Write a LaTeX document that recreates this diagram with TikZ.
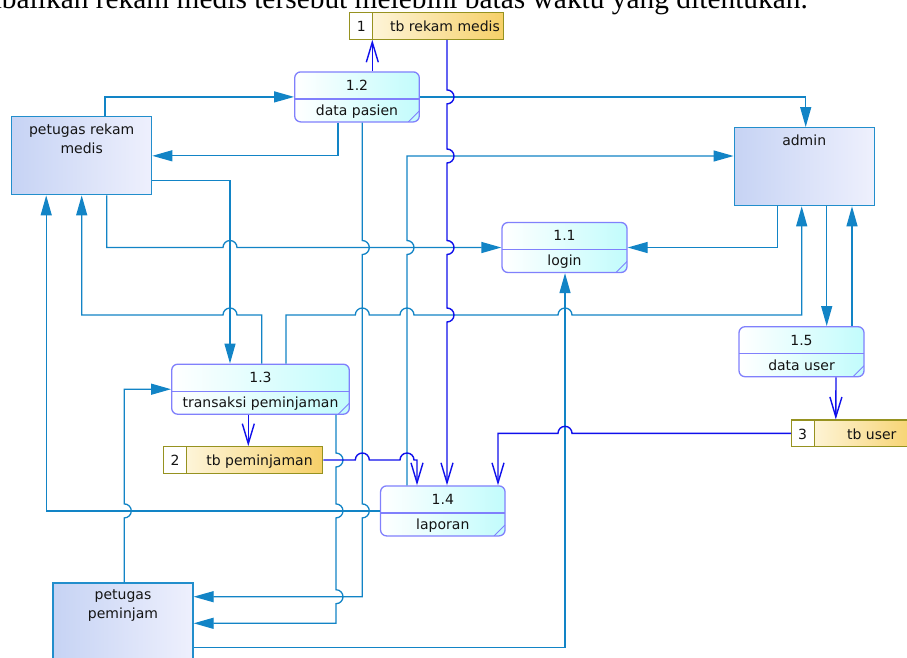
\documentclass[tikz,border=0pt]{standalone}
\usepackage{fontspec}
\setmainfont{DejaVu Sans}
\newfontfamily\docfont{Liberation Serif}
\usetikzlibrary{arrows.meta}
\usetikzlibrary{positioning}

\definecolor{flowc}{RGB}{18,132,198}
\definecolor{dsc}{RGB}{16,16,236}
\definecolor{entline}{RGB}{34,142,204}
\definecolor{entA}{RGB}{198,211,244}
\definecolor{entB}{RGB}{238,240,253}
\definecolor{procline}{RGB}{128,128,252}
\definecolor{procB}{RGB}{194,252,252}
\definecolor{storeline}{RGB}{150,146,32}
\definecolor{storeA}{RGB}{255,251,236}
\definecolor{storeB}{RGB}{246,208,104}
\definecolor{txt}{RGB}{20,20,20}

\tikzstyle{dfd}=[x=1pt, y=-1pt, font=\fontsize{14}{16}\selectfont]
\tikzstyle{entity}=[rectangle, draw=entline, line width=1.3pt, left color=entA, right color=entB, minimum width=140pt, minimum height=78pt, inner sep=0pt]
\tikzstyle{proc}=[rectangle, rounded corners=6pt, draw=procline, line width=1.3pt, left color=white, right color=procB, minimum height=50pt, inner sep=0pt,
  path picture={\draw[procline, line width=1.3pt] ([yshift=-27pt]path picture bounding box.north west) -- ([yshift=-27pt]path picture bounding box.north east);
                \draw[procline, line width=1pt] ([yshift=11pt]path picture bounding box.south east) -- ([xshift=-11pt]path picture bounding box.south east);}]
\tikzstyle{store}=[rectangle, draw=storeline, line width=1.3pt, left color=storeA, right color=storeB, minimum height=26.5pt, inner sep=0pt,
  path picture={\fill[white] (path picture bounding box.north west) rectangle ([xshift=23pt]path picture bounding box.south west);
                \draw[storeline, line width=1.3pt] ([xshift=23pt]path picture bounding box.north west) -- ([xshift=23pt]path picture bounding box.south west);}]
\tikzstyle{etext}=[align=center, inner sep=0pt, text=txt, font=\fontsize{14}{19}\selectfont]
\tikzstyle{pnum}=[inner sep=2pt, text height=10pt, text depth=3pt, text=txt]
\tikzstyle{pname}=[inner sep=2pt, text height=10pt, text depth=3pt, text=txt]
\tikzstyle{stext}=[anchor=base, inner sep=0pt, text=txt]
\tikzstyle{doctext}=[inner sep=0pt, font=\docfont\fontsize{29.4}{32}\selectfont]
\tikzstyle{flow}=[draw=flowc, line width=1.3pt, -{Triangle[length=20pt,width=11pt]}]
\tikzstyle{sflow}=[draw=dsc, line width=1.4pt, -{Straight Barb[length=20pt,width=12pt]}]
\tikzstyle{jr}=[insert path={arc[start angle=180,end angle=0,radius=7pt]}]
\tikzstyle{jl}=[insert path={arc[start angle=0,end angle=180,radius=7pt]}]
\tikzstyle{jd}=[insert path={arc[start angle=90,end angle=-90,radius=7pt]}]
\tikzstyle{ju}=[insert path={arc[start angle=-90,end angle=90,radius=7pt]}]

\begin{document}
\begin{tikzpicture}[dfd]
	\path[use as bounding box, fill=white] (0,0) rectangle (907,657);

	%The line of text above the diagram
	\draw (808,8.5) node[doctext, anchor=base east] (doc) {ibalikan rekam medis tersebut melebihi batas waktu yang ditentukan.};

	%The entities
	\draw (81.7,155.8) node[entity] (prm) {};
	\node[etext, below=7.5pt of prm.north] (prmt) {petugas rekam\\medis};
	\draw (804.2,166.7) node[entity] (adm) {};
	\node[etext, below=7.5pt of adm.north] (admt) {admin};
	\draw (123,622) node[entity] (pp) {};
	\node[etext, below=7.5pt of pp.north] (ppt) {petugas\\peminjam};

	%The processes
	\draw (564.5,247.5) node[proc, minimum width=125pt] (p11) {};
	\node[pnum, below=6.8pt of p11.north] (p11n) {1.1};
	\node[pname, above=2pt of p11.south] (p11t) {login};
	\draw (357,96.9) node[proc, minimum width=124.6pt] (p12) {};
	\node[pnum, below=6.8pt of p12.north] (p12n) {1.2};
	\node[pname, above=2pt of p12.south] (p12t) {data pasien};
	\draw (260.5,389.2) node[proc, minimum width=177.6pt] (p13) {};
	\node[pnum, below=6.8pt of p13.north] (p13n) {1.3};
	\node[pname, above=2pt of p13.south] (p13t) {transaksi peminjaman};
	\draw (442.8,510.9) node[proc, minimum width=124.5pt] (p14) {};
	\node[pnum, below=6.8pt of p14.north] (p14n) {1.4};
	\node[pname, above=2pt of p14.south] (p14t) {laporan};
	\draw (801.5,351.7) node[proc, minimum width=125pt] (p15) {};
	\node[pnum, below=6.8pt of p15.north] (p15n) {1.5};
	\node[pname, above=2pt of p15.south] (p15t) {data user};

	%The data stores
	\draw (426.5,25.9) node[store, minimum width=154pt] (ds1) {};
	\node[stext] (ds1n) at ([xshift=-65.3pt,yshift=-5.8pt]ds1.center) {1};
	\node[stext] (ds1t) at ([xshift=18.5pt,yshift=-5.8pt]ds1.center) {tb rekam medis};
	\draw (243,460) node[store, minimum width=159.4pt] (ds2) {};
	\node[stext] (ds2n) at ([xshift=-68pt,yshift=-5.8pt]ds2.center) {2};
	\node[stext] (ds2t) at ([xshift=16.5pt,yshift=-5.8pt]ds2.center) {tb peminjaman};
	\draw (856.8,433.3) node[store, minimum width=130pt] (ds3) {};
	\node[stext] (ds3n) at ([xshift=-54.3pt,yshift=-5.8pt]ds3.center) {3};
	\node[stext] (ds3t) at ([xshift=15pt,yshift=-5.8pt]ds3.center) {tb user};

	%The flows between entities and processes
	\draw[flow] ([xshift=23.3pt]prm.north) |- (p12.west);
	\draw[flow] ([xshift=-19pt]p12.south) |- (prm.east);
	\draw[flow] (p12.east) -| ([xshift=1.5pt]adm.north);
	\draw[flow] ([xshift=-35.8pt]p14.north) -- (407,254.5) [ju] |- ([yshift=10.7pt]adm.west);
	\draw[flow] ([xshift=-27pt]adm.south) |- (p11.east);
	\draw[flow] ([yshift=-24.5pt]prm.east) -| ([xshift=-30.5pt]p13.north);
	\draw[flow] ([xshift=25pt]prm.south) |- (223,247.5) [jr] -- (p11.west);
	\draw[flow] ([xshift=25.5pt]p13.north) |- (355.3,315) [jr] -- (400,315) [jr] -- (558,315) [jr] -| ([xshift=-2.5pt]adm.south);
	\draw[flow] ([xshift=1.2pt]p13.north) |- (237,315) [jl] -| (prm.south);
	\draw[flow] (p14.west) -| ([xshift=-35.5pt]prm.south);
	\draw[flow] ([xshift=1.3pt]pp.north) -- (124.3,517.9) [ju] |- (p13.west);
	\draw[flow] ([xshift=75.5pt]p13.south) -- (336,453) [jd] -- (336,503.9) [jd] -- (336,589.7) [jd] |- ([yshift=-1.3pt]pp.east);
	\draw[flow] ([xshift=5.3pt]p12.south) -- (362.3,240.5) [jd] -- (362.3,503.9) [jd] |- ([yshift=25.3pt]pp.east);
	\draw[flow] ([yshift=-25.7pt]pp.east) -| ([xshift=0.5pt]p11.south);
	\draw[flow] ([xshift=22.5pt]adm.south) -- ([xshift=25.2pt]p15.north);
	\draw[flow] ([xshift=50.5pt]p15.north) -- ([xshift=47.8pt]adm.south);

	%The flows to and from the data stores
	\draw[sflow] ([xshift=15.3pt]p12.north) -- ([xshift=-54.2pt]ds1.south);
	\draw[sflow] ([xshift=20.5pt]ds1.south) -- (447,89.9) [jd] -- (447,149) [jd] -- (447,240.5) [jd] -- (447,308) [jd] -- ([xshift=4.2pt]p14.north);
	\draw[sflow] ([xshift=-12.2pt]p13.south) -- ([xshift=5.3pt]ds2.north);
	\draw[sflow] (ds2.east) -- (355.3,460) [jr] -- (400,460) [jr] -| ([xshift=-25.8pt]p14.north);
	\draw[sflow] ([xshift=34.5pt]p15.south) -- ([xshift=-21pt]ds3.north);
	\draw[sflow] (ds3.west) -- (572,433.3) [jl] -| ([xshift=55.2pt]p14.north);
\end{tikzpicture}
\end{document}
